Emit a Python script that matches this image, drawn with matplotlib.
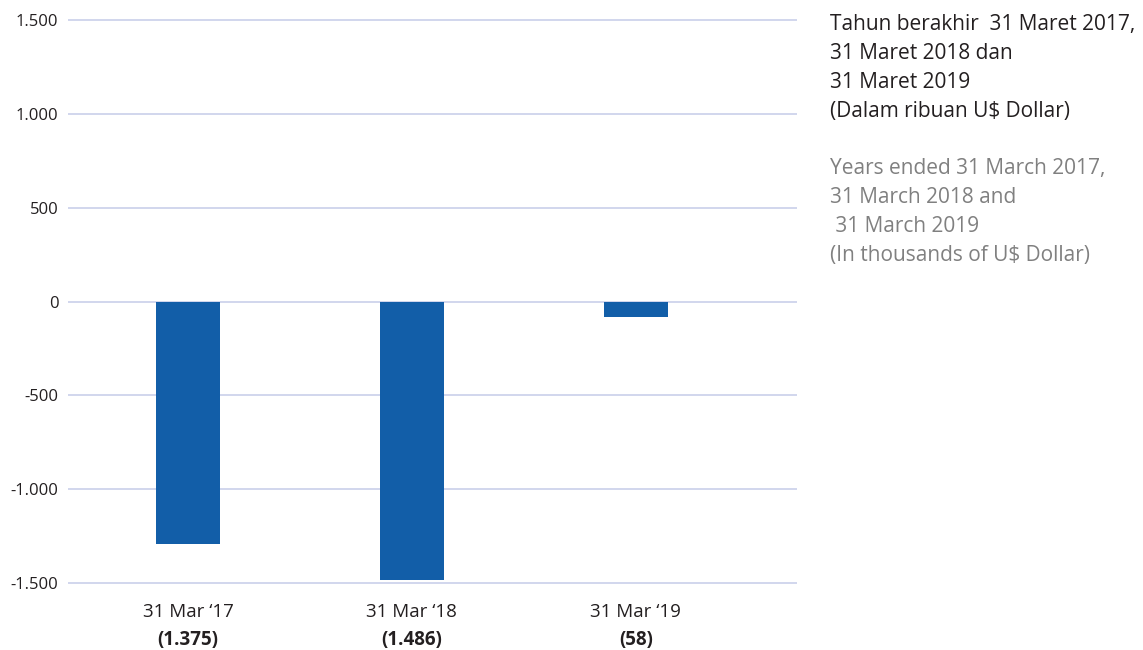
import matplotlib
matplotlib.use("Agg")
import matplotlib.pyplot as plt

# data (in thousands of US$)
categories = ["31 Mar \u201817", "31 Mar \u201818", "31 Mar \u201819"]
values = [-1290, -1485, -85]
value_labels = ["(1.375)", "(1.486)", "(58)"]
yticks = [-1500, -1000, -500, 0, 500, 1000, 1500]
ytick_labels = ["-1.500", "-1.000", "-500", "0", "500", "1.000", "1.500"]

note_id = "Tahun berakhir  31 Maret 2017,\n31 Maret 2018 dan\n31 Maret 2019\n(Dalam ribuan U$ Dollar)"
note_en = "Years ended 31 March 2017,\n31 March 2018 and\n 31 March 2019\n(In thousands of U$ Dollar)"

plt.rcParams['font.family'] = ['Open Sans', 'DejaVu Sans']

fig = plt.figure(figsize=(11.43, 6.5), dpi=100)
ax = fig.add_axes([68/1143, 1 - 586/650, (797-68)/1143, (586-17)/650])

x = list(range(len(categories)))
ax.bar(x, values, width=0.286, color="#125ea8", zorder=3)

ax.set_ylim(-1515, 1515)
ax.set_xlim(-0.536, 2.72)
ax.set_yticks(yticks)
ax.set_yticklabels(ytick_labels, fontsize=12, color="#231f20")
ax.yaxis.grid(True, color="#c9d0ea", linewidth=1.2, zorder=0)
ax.tick_params(axis="y", length=0, pad=7)
ax.set_xticks([])
for s in ax.spines.values():
    s.set_visible(False)

for i, (c, v) in enumerate(zip(categories, value_labels)):
    ax.text(i, -1655, c, ha="center", va="center", fontsize=13.5, color="#231f20")
    ax.text(i, -1800, v, ha="center", va="center", fontsize=13.5, fontweight="bold", color="#231f20")

fig.text(830/1143, 1 - 14/650, note_id, ha="left", va="top", fontsize=15,
         color="#231f20", linespacing=1.5)
fig.text(830/1143, 1 - 158/650, note_en, ha="left", va="top", fontsize=15,
         color="#808080", linespacing=1.5)

fig.savefig("out.png", dpi=100)
